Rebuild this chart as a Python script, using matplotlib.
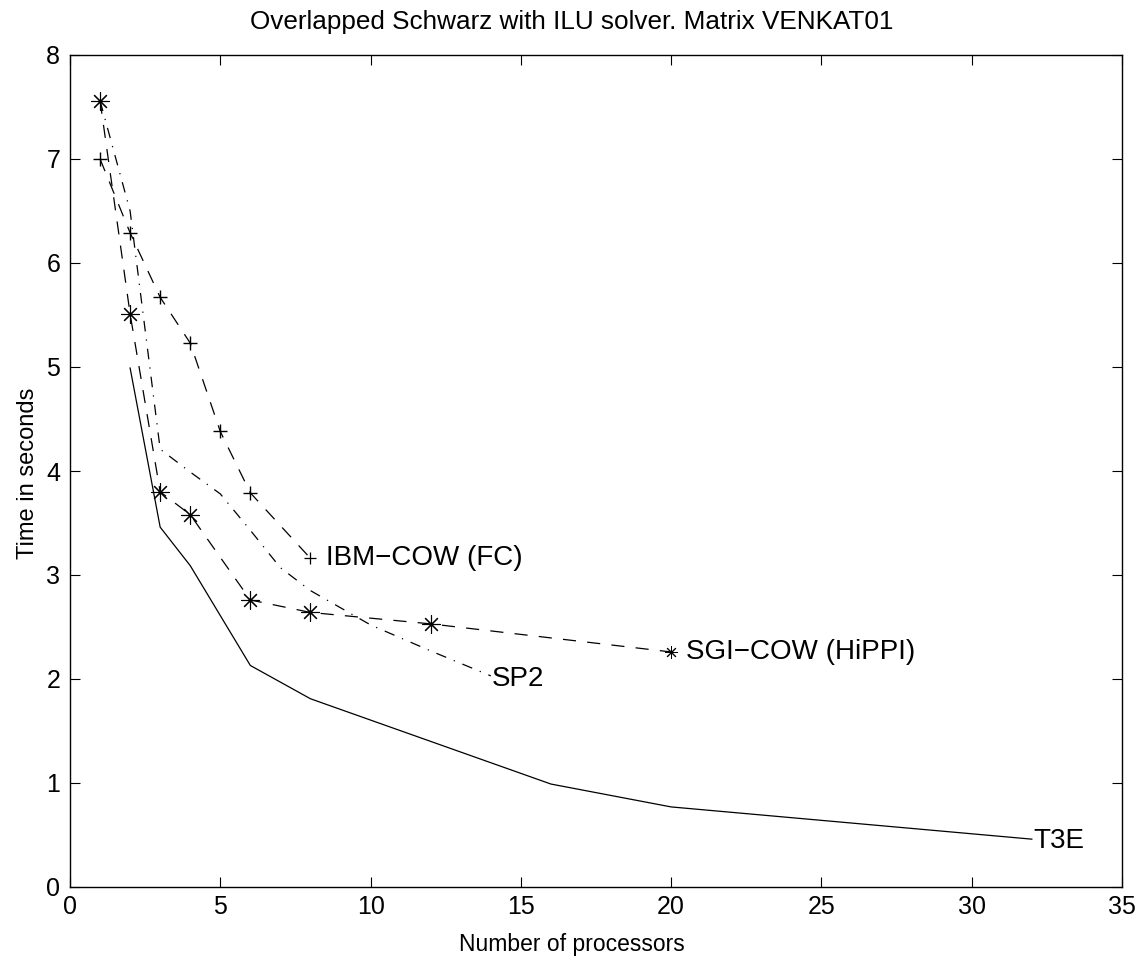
import matplotlib
matplotlib.use("Agg")
import matplotlib.pyplot as plt

plt.rcParams['font.family'] = ['Liberation Sans', 'DejaVu Sans']

# T3E (solid)
t3e_procs = [2, 3, 4, 6, 8, 16, 20, 32]
t3e_time = [4.99, 3.46, 3.09, 2.13, 1.81, 0.99, 0.77, 0.46]

# SP2 (dash-dot)
sp2_procs = [1, 2, 3, 4, 5, 6, 7, 8, 10, 12, 14]
sp2_time = [7.56, 6.50, 4.21, 3.99, 3.78, 3.43, 3.07, 2.85, 2.52, 2.27, 2.03]

# IBM-COW (FC) (dashed, plus markers)
ibm_procs = [1, 2, 3, 4, 5, 6, 8]
ibm_time = [7.00, 6.29, 5.67, 5.23, 4.38, 3.79, 3.16]

# SGI-COW (HiPPI) (dashed, asterisk markers)
sgi_procs = [1, 2, 3, 4, 6, 8, 12, 20]
sgi_time = [7.56, 5.51, 3.80, 3.58, 2.76, 2.64, 2.53, 2.26]

ASTER = (8, 2, 0)
DASH = (10.5, 9)
DASHDOT = (8.5, 6.5, 1, 6.5)

fig = plt.figure(figsize=(11.44, 9.58), dpi=100)
ax = fig.add_axes([70 / 1144, 1 - 887 / 958, 1052 / 1144, 832 / 958])

ax.plot(t3e_procs, t3e_time, color='k', lw=0.9)
ax.plot(sp2_procs, sp2_time, color='k', lw=0.9, dashes=DASHDOT)

ax.plot(ibm_procs, ibm_time, color='k', lw=0.9, dashes=DASH)
ax.plot(ibm_procs[:-1], ibm_time[:-1], ls='none', marker='+', ms=10, mew=1.0, color='k')
ax.plot(ibm_procs[-1:], ibm_time[-1:], ls='none', marker='+', ms=8, mew=0.9, color='k')

ax.plot(sgi_procs, sgi_time, color='k', lw=0.9, dashes=DASH)
ax.plot(sgi_procs[:-1], sgi_time[:-1], ls='none', marker=ASTER, ms=13, mew=0.8, color='k')
ax.plot(sgi_procs[-1:], sgi_time[-1:], ls='none', marker=ASTER, ms=9, mew=0.7, color='k')

lab = dict(fontsize=20, va='center', ha='left', textcoords='offset points')
ax.annotate('IBM\u2212COW (FC)', (ibm_procs[-1], ibm_time[-1]), xytext=(11, 0), **lab)
ax.annotate('SGI\u2212COW (HiPPI)', (sgi_procs[-1], sgi_time[-1]), xytext=(11, 0), **lab)
ax.annotate('SP2', (sp2_procs[-1], sp2_time[-1]), xytext=(1, -2), **lab)
ax.annotate('T3E', (t3e_procs[-1], t3e_time[-1]), xytext=(1, -1), **lab)

ax.set_xlim(0, 35)
ax.set_ylim(0, 8)
ax.set_xticks(range(0, 36, 5))
ax.set_yticks(range(0, 9))
ax.tick_params(direction='in', length=7, width=0.8, labelsize=18,
               top=True, right=True)
ax.tick_params(axis='x', pad=6)
ax.tick_params(axis='y', pad=7)
for s in ax.spines.values():
    s.set_linewidth(1.0)

fig.text(0.5, 1 - 22 / 958, 'Overlapped Schwarz with ILU solver. Matrix VENKAT01',
         ha='center', va='center', fontsize=18.8)
fig.text(0.5, 1 - 944 / 958, 'Number of processors', ha='center', va='center', fontsize=16.5)
fig.text(28 / 1144, 1 - 473 / 958, 'Time in seconds', ha='center', va='center',
         rotation=90, fontsize=17)

fig.savefig('out.png', dpi=100)
